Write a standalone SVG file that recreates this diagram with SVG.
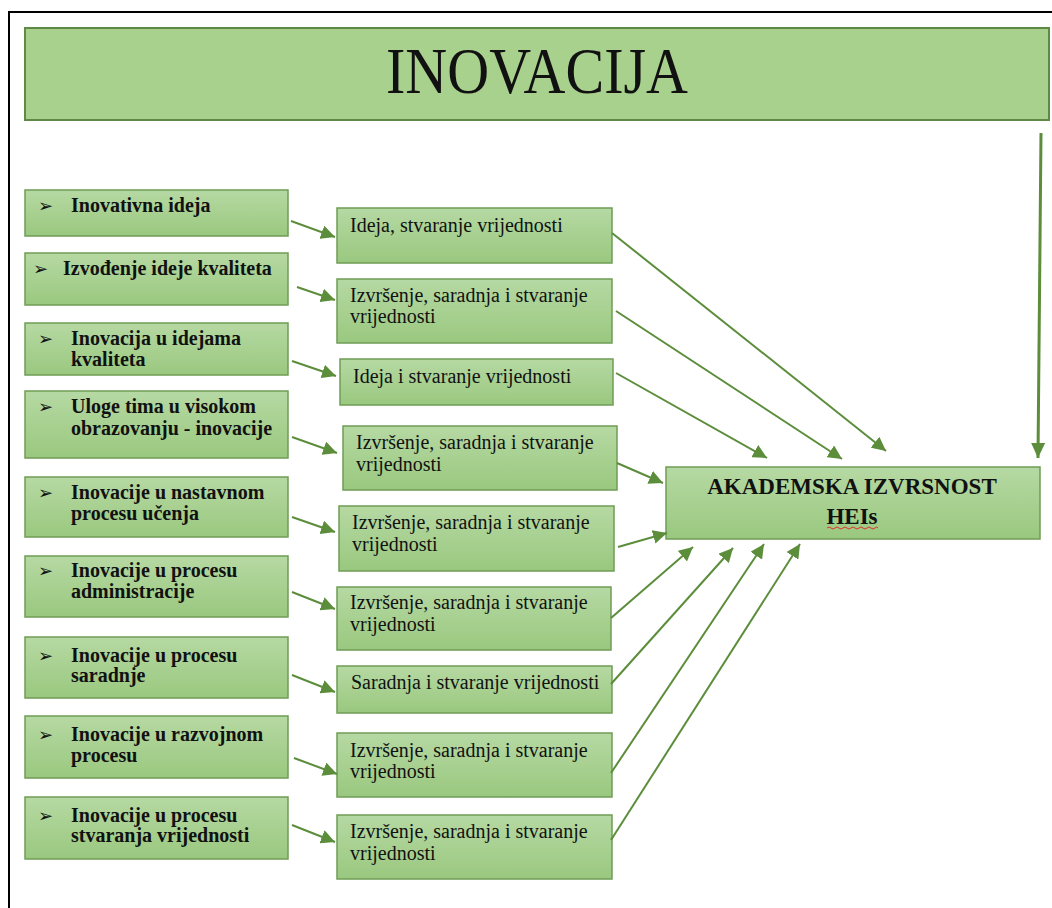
<svg xmlns="http://www.w3.org/2000/svg" width="1052" height="908" viewBox="0 0 1052 908">
<style>
.box{fill:url(#g);stroke:#6f9d55;stroke-width:1.5}
.lb{font-family:"Liberation Serif","Times New Roman",serif;font-weight:bold;font-size:20px;fill:#111}
.mt{font-family:"Liberation Serif","Times New Roman",serif;font-size:20px;fill:#111}
.bu{font-family:"DejaVu Sans",sans-serif;font-size:18px;font-weight:bold;fill:#111}
.c{stroke:#5b8d3b;stroke-width:2;fill:none;marker-end:url(#ah)}
</style>
<defs>
<linearGradient id="g" x1="0" y1="0" x2="0" y2="1">
<stop offset="0" stop-color="#b6d9a3"/>
<stop offset="1" stop-color="#9ac87f"/>
</linearGradient>
<marker id="ah" markerUnits="userSpaceOnUse" markerWidth="16" markerHeight="14" refX="14" refY="7" orient="auto">
<path d="M0,0 L14,7 L0,14 Z" fill="#5b8d3b"/>
</marker>
<marker id="ah2" markerUnits="userSpaceOnUse" markerWidth="16" markerHeight="14" refX="15" refY="7" orient="auto">
<path d="M0,0 L15,7 L0,14 Z" fill="#5b8d3b"/>
</marker>
</defs>
<rect width="1052" height="908" fill="#fff"/>
<path d="M9,908 V12 H1052" fill="none" stroke="#000" stroke-width="2"/>

<g id="header">
<rect x="25" y="28" width="1024" height="92" fill="#a9d18e" stroke="#5f8a45" stroke-width="2"/>
<text x="386" y="93" font-family="Liberation Serif,'Times New Roman',serif" font-size="66" textLength="302" lengthAdjust="spacingAndGlyphs" fill="#111">INOVACIJA</text>
</g>

<g id="l1"><rect class="box" x="25" y="190" width="263" height="46"/><text class="bu" x="38" y="212">➢</text><text class="lb" x="71" y="212">Inovativna ideja</text></g>
<g id="l2"><rect class="box" x="25" y="253" width="263" height="52"/><text class="bu" x="33" y="275">➢</text><text class="lb" x="63" y="275">Izvođenje ideje kvaliteta</text></g>
<g id="l3"><rect class="box" x="25" y="323" width="263" height="52"/><text class="bu" x="38" y="345">➢</text><text class="lb" x="71" y="345">Inovacija u idejama</text><text class="lb" x="71" y="366">kvaliteta</text></g>
<g id="l4"><rect class="box" x="25" y="391" width="263" height="67"/><text class="bu" x="38" y="413">➢</text><text class="lb" x="71" y="413">Uloge tima u visokom</text><text class="lb" x="71" y="435">obrazovanju - inovacije</text></g>
<g id="l5"><rect class="box" x="25" y="477" width="263" height="60"/><text class="bu" x="38" y="499">➢</text><text class="lb" x="71" y="499">Inovacije u nastavnom</text><text class="lb" x="71" y="520">procesu učenja</text></g>
<g id="l6"><rect class="box" x="25" y="556" width="263" height="61"/><text class="bu" x="38" y="577">➢</text><text class="lb" x="71" y="577">Inovacije u procesu</text><text class="lb" x="71" y="598">administracije</text></g>
<g id="l7"><rect class="box" x="25" y="637" width="263" height="61"/><text class="bu" x="38" y="662">➢</text><text class="lb" x="71" y="662">Inovacije u procesu</text><text class="lb" x="71" y="682">saradnje</text></g>
<g id="l8"><rect class="box" x="25" y="716" width="263" height="62"/><text class="bu" x="38" y="741">➢</text><text class="lb" x="71" y="741">Inovacije u razvojnom</text><text class="lb" x="71" y="762">procesu</text></g>
<g id="l9"><rect class="box" x="25" y="797" width="263" height="62"/><text class="bu" x="38" y="822">➢</text><text class="lb" x="71" y="822">Inovacije u procesu</text><text class="lb" x="71" y="842">stvaranja vrijednosti</text></g>

<g id="m1"><rect class="box" x="337" y="208" width="275" height="55"/><text class="mt" x="350" y="232">Ideja, stvaranje vrijednosti</text></g>
<g id="m2"><rect class="box" x="337" y="279" width="275" height="64"/><text class="mt" x="350" y="302">Izvršenje, saradnja i stvaranje</text><text class="mt" x="350" y="323">vrijednosti</text></g>
<g id="m3"><rect class="box" x="340" y="359" width="273" height="46"/><text class="mt" x="353" y="383">Ideja i stvaranje vrijednosti</text></g>
<g id="m4"><rect class="box" x="343" y="426" width="274" height="64"/><text class="mt" x="356" y="449">Izvršenje, saradnja i stvaranje</text><text class="mt" x="356" y="471">vrijednosti</text></g>
<g id="m5"><rect class="box" x="339" y="506" width="275" height="65"/><text class="mt" x="352" y="529">Izvršenje, saradnja i stvaranje</text><text class="mt" x="352" y="551">vrijednosti</text></g>
<g id="m6"><rect class="box" x="337" y="587" width="274" height="63"/><text class="mt" x="350" y="609">Izvršenje, saradnja i stvaranje</text><text class="mt" x="350" y="631">vrijednosti</text></g>
<g id="m7"><rect class="box" x="337" y="666" width="275" height="47"/><text class="mt" x="351" y="689">Saradnja i stvaranje vrijednosti</text></g>
<g id="m8"><rect class="box" x="337" y="733" width="275" height="64"/><text class="mt" x="350" y="757">Izvršenje, saradnja i stvaranje</text><text class="mt" x="350" y="778">vrijednosti</text></g>
<g id="m9"><rect class="box" x="337" y="815" width="275" height="64"/><text class="mt" x="350" y="838">Izvršenje, saradnja i stvaranje</text><text class="mt" x="350" y="860">vrijednosti</text></g>

<g id="akademska">
<rect class="box" x="666" y="467" width="374" height="72"/>
<text x="852" y="494" text-anchor="middle" font-family="Liberation Serif,'Times New Roman',serif" font-weight="bold" font-size="23" fill="#111">AKADEMSKA IZVRSNOST</text>
<text x="852" y="524" text-anchor="middle" font-family="Liberation Serif,'Times New Roman',serif" font-weight="bold" font-size="23" fill="#111">HEIs</text>
<path d="M827,528 q2,-2 4,0 t4,0 t4,0 t4,0 t4,0 t4,0 t4,0 t4,0 t4,0 t4,0 t4,0 t4,0 t3,0" fill="none" stroke="#e03030" stroke-width="1"/>
</g>

<g id="connectors">
<line class="c" x1="291" y1="221" x2="335" y2="237"/>
<line class="c" x1="297" y1="287" x2="335" y2="300"/>
<line class="c" x1="292" y1="361" x2="336" y2="376"/>
<line class="c" x1="292" y1="437" x2="337" y2="453"/>
<line class="c" x1="292" y1="517" x2="335" y2="532"/>
<line class="c" x1="292" y1="592" x2="335" y2="609"/>
<line class="c" x1="292" y1="675" x2="335" y2="692"/>
<line class="c" x1="294" y1="758" x2="337" y2="774"/>
<line class="c" x1="292" y1="825" x2="335" y2="842"/>
<line class="c" x1="612" y1="233" x2="886" y2="451"/>
<line class="c" x1="616" y1="311" x2="842" y2="459"/>
<line class="c" x1="616" y1="373" x2="767" y2="458"/>
<line class="c" x1="617" y1="463" x2="663" y2="483"/>
<line class="c" x1="618" y1="547" x2="667" y2="533"/>
<line class="c" x1="611" y1="618" x2="693" y2="547"/>
<line class="c" x1="611" y1="684" x2="733" y2="548"/>
<line class="c" x1="611" y1="773" x2="764" y2="544"/>
<line class="c" x1="611" y1="840" x2="800" y2="544"/>
<line x1="1041" y1="133" x2="1038" y2="458" stroke="#5b8d3b" stroke-width="3" marker-end="url(#ah2)"/>
</g>
</svg>
